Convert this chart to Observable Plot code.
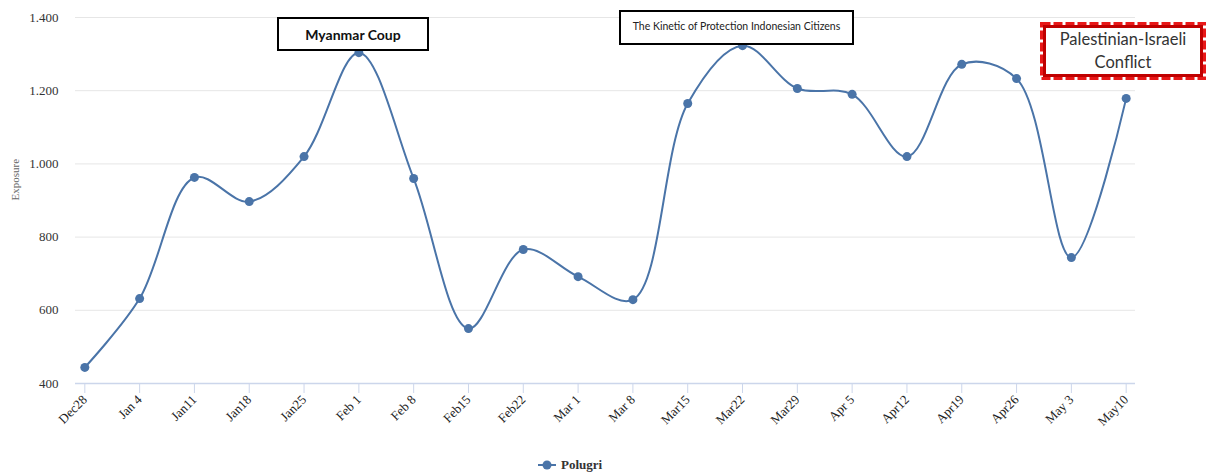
<!DOCTYPE html>
<html>
<head>
<meta charset="utf-8">
<script src="https://cdn.jsdelivr.net/npm/d3@7"></script>
<script src="https://cdn.jsdelivr.net/npm/@observablehq/plot@0.6"></script>
<style>
  html, body { margin: 0; padding: 0; background: #fff; }
  #wrap { position: relative; width: 1207px; height: 473px; overflow: hidden; }
  .note { position: absolute; box-sizing: border-box; display: flex; align-items: center; justify-content: center; text-align: center; background: #fff; font-family: Lato, sans-serif; }
  #n1 { left: 277px; top: 17px; width: 152px; height: 34px; border: 2px solid #000; font-weight: bold; font-size: 14px; color: #111; }
  #n2 { left: 619px; top: 10px; width: 235px; height: 35px; border: 2.5px solid #000; font-size: 10.5px; color: #222; padding-bottom: 3px; }
  #n3 { left: 1040px; top: 22px; width: 166px; height: 58px; font-size: 16.5px; color: #333; line-height: 23px; }
  #n3 svg { position: absolute; left: 0; top: 0; }
  #n3 span { position: relative; }
  #legend { position: absolute; left: 538px; top: 457px; display: flex; align-items: center; font-family: "Liberation Serif", serif; font-weight: bold; font-size: 13px; color: #333; }
</style>
</head>
<body>
<div id="wrap">
  <div id="chart"></div>
  <div class="note" id="n1">Myanmar Coup</div>
  <div class="note" id="n2">The Kinetic of Protection Indonesian Citizens</div>
  <div class="note" id="n3">
    <svg width="166" height="58">
      <rect x="1.5" y="1.5" width="163" height="55" fill="none" stroke="#e81818" stroke-width="3" stroke-dasharray="9 3"/>
      <rect x="4.5" y="4.5" width="157" height="49" fill="none" stroke="#c00000" stroke-width="3"/>
    </svg>
    <span>Palestinian-Israeli<br>Conflict</span>
  </div>
  <div id="legend">
    <svg width="18" height="12" style="margin-right:5px"><line x1="0" y1="6" x2="18" y2="6" stroke="#4a74a8" stroke-width="2"/><circle cx="9" cy="6" r="4.5" fill="#4a74a8"/></svg>
    <span>Polugri</span>
  </div>
</div>
<script>
const weeks = ["Dec28","Jan 4","Jan11","Jan18","Jan25","Feb 1","Feb 8","Feb15","Feb22","Mar 1","Mar 8","Mar15","Mar22","Mar29","Apr 5","Apr12","Apr19","Apr26","May 3","May10"];
const exposure = [444, 632, 963, 897, 1020, 1304, 960, 550, 766, 692, 629, 1165, 1323, 1206, 1190, 1020, 1272, 1233, 744, 1179];
const yTicks = [400, 600, 800, 1000, 1200, 1400];
const yTickLabels = ["400", "600", "800", "1.000", "1.200", "1.400"];

const data = weeks.map((w, i) => ({week: w, value: exposure[i]}));
const color = "#4a74a8";

const chart = Plot.plot({
  width: 1207,
  height: 445,
  marginLeft: 75,
  marginRight: 72,
  marginTop: 17,
  marginBottom: 62,
  style: {fontFamily: "'Liberation Serif', serif", background: "#fff"},
  x: {type: "point", domain: weeks, padding: 0.17, round: false},
  y: {domain: [400, 1400]},
  marks: [
    Plot.gridY(yTicks.slice(1), {stroke: "#e6e6e6", strokeOpacity: 1, strokeWidth: 1}),
    Plot.ruleY([400], {stroke: "#ccd6eb", strokeWidth: 1.5}),
    Plot.axisX({tickSize: 10, stroke: "#ccd6eb", fill: "#222", tickRotate: -45, fontSize: 13, tickPadding: 4, label: null}),
    Plot.axisY({ticks: yTicks, tickFormat: (d) => yTickLabels[yTicks.indexOf(d)], tickSize: 0, tickPadding: 17, fill: "#333", fontSize: 13, label: null}),
    Plot.text(["Exposure"], {frameAnchor: "left", dx: -60, rotate: -90, fill: "#666", fontSize: 11}),
    Plot.line(data, {x: "week", y: "value", stroke: color, strokeWidth: 2, curve: "catmull-rom"}),
    Plot.dot(data, {x: "week", y: "value", fill: color, r: 4.5})
  ]
});
document.getElementById("chart").appendChild(chart);
</script>
</body>
</html>
